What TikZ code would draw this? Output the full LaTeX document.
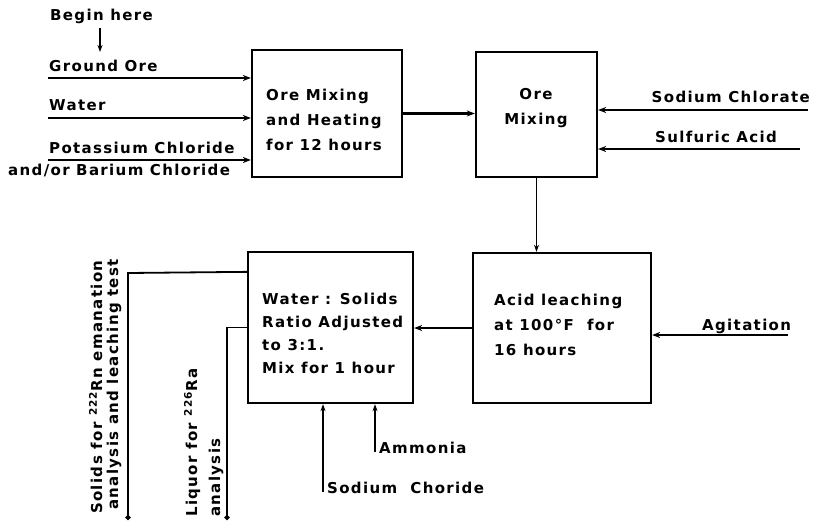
\documentclass[tikz,border=0pt]{standalone}
\usepackage{fontspec}
\setmainfont{DejaVu Sans}[LetterSpace=9]
\usetikzlibrary{arrows.meta,calc}
\begin{document}
\begin{tikzpicture}[x=1pt,y=-1pt,
  box/.style={draw,line width=2.3pt,rectangle,inner sep=0pt},
  txt/.style={font=\fontsize{15}{25}\selectfont\bfseries,inner sep=0pt},
  flow/.style={line width=2.6pt,-{Stealth[length=8pt,width=6pt]}},
  thinflow/.style={line width=1.6pt,-{Stealth[length=7pt,width=5pt]}},
  outflow/.style={line width=1.8pt,-{Circle[length=5pt]}}]
\useasboundingbox (0,0) rectangle (815,525);
% boxes
\node[box,minimum width=150pt,minimum height=127pt] (b1) at (327,113.5) {};
\node[box,minimum width=121pt,minimum height=125pt] (b2) at (536.5,114.5) {};
\node[box,minimum width=178pt,minimum height=150pt] (b3) at (562,328) {};
\node[box,minimum width=165pt,minimum height=151pt] (b4) at (330.5,327.5) {};
% box texts
\node[txt,align=left,anchor=west] (t1) at (266,120) {Ore Mixing\\and Heating\\for 12 hours};
\node[txt,align=center] (t2) at (536,108) {Ore\\Mixing};
\node[txt,align=left,anchor=west] (t3) at (494,325) {Acid leaching\\at 100°F\ \ for\\16 hours};
\node[txt,font=\fontsize{15}{23}\selectfont\bfseries,align=left,anchor=west] (t4) at (262,333) {Water : Solids\\Ratio Adjusted\\to 3:1.\\Mix for 1 hour};
% left inputs
\node[txt,anchor=base west] (lbegin) at (50,20) {Begin here};
\coordinate (ab) at (100,28);
\coordinate (ae) at (100,52);
\draw[thinflow] (ab) -- (ae);
\node[txt,anchor=base west] (lgo) at (49,71) {Ground Ore};
\coordinate (sgo) at (48,78);
\draw[flow] (sgo) -- (sgo -| b1.west);
\node[txt,anchor=base west] (lw) at (49,110) {Water};
\coordinate (sw) at (48,118);
\draw[flow] (sw) -- (sw -| b1.west);
\node[txt,anchor=base west] (lpc) at (49,153) {Potassium Chloride};
\node[txt,anchor=base west] (lbc) at (8,175) {and/or Barium Chloride};
\coordinate (spc) at (48,160);
\draw[flow] (spc) -- (spc -| b1.west);
% right inputs
\node[txt,anchor=base east] (lsc) at (810,102) {Sodium Chlorate};
\coordinate (ssc) at (808,110);
\draw[flow] (ssc) -- (ssc -| b2.east);
\node[txt,anchor=base west] (lsa) at (655,142) {Sulfuric Acid};
\coordinate (ssa) at (800,149);
\draw[flow] (ssa) -- (ssa -| b2.east);
\node[txt,anchor=base west] (lag) at (702,330) {Agitation};
\coordinate (sag) at (788,335);
\draw[flow] (sag) -- (sag -| b3.east);
% main flow
\draw[flow] (b1.east) -- (b1.east -| b2.west);
\draw[thinflow] (b2.south) -- (b2.south |- b3.north);
\draw[flow] (b3.west) -- (b3.west -| b4.east);
% bottom inputs
\coordinate (snc) at (323,492);
\draw[thinflow] (snc) -- (snc |- b4.south);
\node[txt,anchor=base west] (lnc) at (327,493) {Sodium\ \ Choride};
\coordinate (sam) at (375,452);
\draw[thinflow] (sam) -- (sam |- b4.south);
\node[txt,anchor=base west] (lam) at (379,453) {Ammonia};
% outputs
\coordinate (os1) at ($(b4.north west)+(0,21)$);
\coordinate (os2) at (128,273);
\coordinate (os3) at (128,520);
\draw[outflow] (os1) -- (os2) -- (os3);
\coordinate (ol1) at (b4.west);
\coordinate (ol2) at (227,327.5);
\coordinate (ol3) at (227,520);
\draw[outflow] (ol1) -- (ol2) -- (ol3);
\node[txt,rotate=90,anchor=base west] (ls1) at (102,514) {Solids for \textsuperscript{222}Rn emanation};
\node[txt,rotate=90,anchor=base west] (ls2) at (118,510) {analysis and leaching test};
\node[txt,rotate=90,anchor=base west] (ll1) at (197,517) {Liquor for \textsuperscript{226}Ra};
\node[txt,rotate=90,anchor=base west] (ll2) at (220,517) {analysis};
\end{tikzpicture}
\end{document}
